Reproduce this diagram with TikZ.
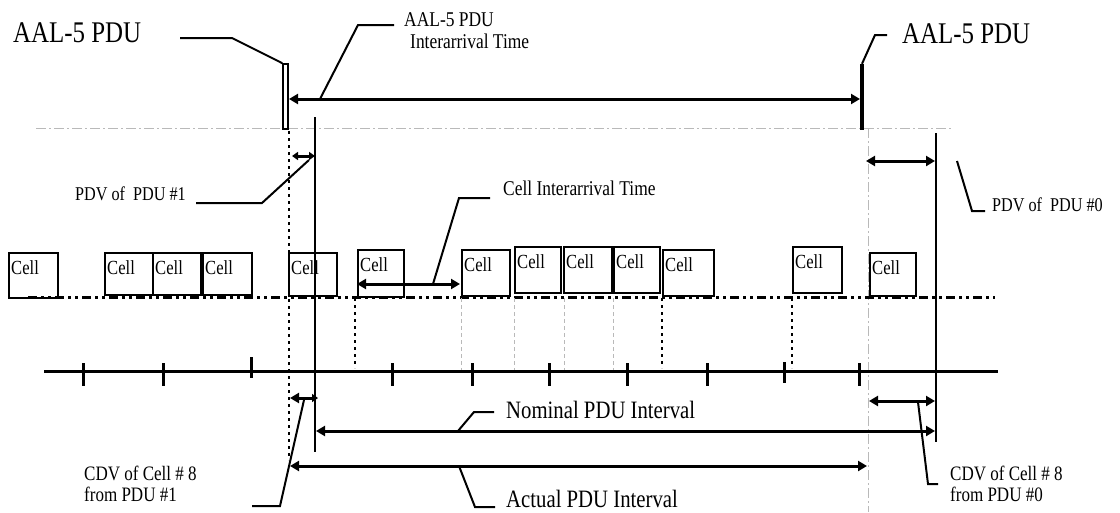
\documentclass[tikz,border=0pt]{standalone}
\usepackage{fontspec}
\setmainfont{Liberation Serif}[FakeStretch=0.83]
\usetikzlibrary{arrows.meta}
\begin{document}
\begin{tikzpicture}[x=1pt,y=-1pt,
  lead/.style={line width=2pt},
  tipL/.tip={Triangle[length=9pt,width=10pt]},
  tipS/.tip={Triangle[length=6pt,width=8pt]},
  dbl/.style={line width=3pt,tipL-tipL},
  vline/.style={line width=2.5pt},
  dotv/.style={line width=2.5pt,dash pattern=on 3pt off 4pt},
  grayv/.style={gray!55,line width=0.7pt,dash pattern=on 4pt off 3pt},
  graydd/.style={gray!55,line width=1pt,dash pattern=on 10pt off 3pt on 2pt off 3pt},
  ddot/.style={line width=3pt,dash pattern=on 9pt off 4pt on 3pt off 4pt on 3pt off 4pt},
  tick/.style={line width=3pt},
  cellbox/.style={draw,line width=2pt,inner sep=0pt,anchor=north west,
    label={[anchor=north west,inner xsep=3pt,inner ysep=8pt,font=\fontsize{20}{20}\selectfont]north west:Cell}},
  bigtxt/.style={font=\fontsize{30}{32}\selectfont,anchor=base west,inner sep=0pt},
  midtxt/.style={font=\fontsize{21}{22}\selectfont,anchor=base west,inner sep=0pt,align=left},
  smltxt/.style={font=\fontsize{19.5}{18}\selectfont,anchor=base west,inner sep=0pt,align=left},
  cdvtxt/.style={font=\fontsize{20.5}{21}\selectfont,anchor=base west,inner sep=0pt,align=left},
  lbltxt/.style={font=\fontsize{25}{26}\selectfont,anchor=base west,inner sep=0pt}
]
\useasboundingbox (0,0) rectangle (1120,512);

% ---------- background guide lines ----------
\coordinate (gh1) at (36,128);  \coordinate (gh2) at (953,128);
\draw[graydd] (gh1) -- (gh2);
\coordinate (gv1) at (868,128); \coordinate (gv2) at (868,512);
\draw[graydd] (gv1) -- (gv2);

% ---------- cells ----------
\node[cellbox,minimum width=49pt,minimum height=45pt] (c1) at (8,252) {};
\node[cellbox,minimum width=48pt,minimum height=42pt] (c2) at (104,252) {};
\node[cellbox,minimum width=48pt,minimum height=42pt] (c3) at (152,252) {};
\node[cellbox,minimum width=49pt,minimum height=42pt] (c4) at (202,252) {};
\node[cellbox,minimum width=48pt,minimum height=43pt] (c5) at (288,252) {};
\node[cellbox,minimum width=46pt,minimum height=47pt] (c6) at (357,249) {};
\node[cellbox,minimum width=48pt,minimum height=46pt] (c7) at (461,249) {};
\node[cellbox,minimum width=46pt,minimum height=46pt] (c8) at (514,246) {};
\node[cellbox,minimum width=48pt,minimum height=46pt] (c9) at (563,246) {};
\node[cellbox,minimum width=46pt,minimum height=46pt] (c10) at (613,246) {};
\node[cellbox,minimum width=51pt,minimum height=46pt] (c11) at (662,249) {};
\node[cellbox,minimum width=49pt,minimum height=46pt] (c12) at (792,246) {};
\node[cellbox,minimum width=46pt,minimum height=43pt] (c13) at (869,252) {};

% cell line and time axis
\coordinate (dl1) at (28,297); \coordinate (dl2) at (995,297);
\draw[ddot] (dl1) -- (dl2);
\coordinate (ax1) at (44,371); \coordinate (ax2) at (998,371);
\draw[tick] (ax1) -- (ax2);
\foreach \x in {83,163,392,472,549,627,707,859} \draw[tick] (\x,363) -- (\x,386);
\draw[tick] (251,357) -- (251,378);
\draw[tick] (784,362) -- (784,383);

% short vertical projections
\foreach \x in {355,662,792} \draw[dotv] (\x,298) -- (\x,368);
\foreach \x in {461,514,564,613} \draw[grayv] (\x,298) -- (\x,370);

% ---------- PDU markers ----------
\node[draw,line width=1.5pt,fill=white,minimum width=5pt,minimum height=65pt,inner sep=0pt] (pduA) at (285.5,96.5) {};
\node[fill=black,minimum width=4pt,minimum height=66pt,inner sep=0pt] (pduB) at (862,97) {};

% main verticals
\coordinate (v1t) at (315,117); \coordinate (v1b) at (315,452);
\draw[vline] (v1t) -- (v1b);
\coordinate (v2t) at (936,133); \coordinate (v2b) at (936,442);
\draw[vline] (v2t) -- (v2b);
\coordinate (d1t) at (289,131); \coordinate (d1b) at (289,460);
\draw[dotv] (d1t) -- (d1b);

% ---------- texts ----------
\node[bigtxt] (tA) at (13,42) {AAL-5 PDU};
\node[bigtxt] (tB) at (902,43) {AAL-5 PDU};
\node[midtxt] (tIA) at (404,48) {AAL-5 PDU\\\hspace*{6pt}Interarrival Time};
\node[smltxt] (tP1) at (75,200) {PDV of\ \ PDU \#1};
\node[smltxt] (tP0) at (992,211) {PDV of\ \ PDU \#0};
\node[midtxt] (tCI) at (503,195) {Cell Interarrival Time};
\node[lbltxt] (tNom) at (506,418) {Nominal PDU Interval};
\node[lbltxt] (tAct) at (506,507) {Actual PDU Interval};
\node[cdvtxt] (tC1) at (84,501) {CDV of Cell \# 8\\from PDU \#1};
\node[cdvtxt] (tC0) at (950,501) {CDV of Cell \# 8\\from PDU \#0};

% ---------- arrows ----------
\coordinate (iaL) at (289,99); \coordinate (iaR) at (860,99);
\draw[dbl] (iaL) -- (iaR);
\coordinate (pv1L) at (292,156); \coordinate (pv1R) at (315,156);
\draw[line width=3pt,tipS-tipS] (pv1L) -- (pv1R);
\coordinate (pv0L) at (866,161); \coordinate (pv0R) at (935,161);
\draw[dbl] (pv0L) -- (pv0R);
\coordinate (ciL) at (357,284); \coordinate (ciR) at (460,284);
\draw[dbl] (ciL) -- (ciR);
\coordinate (cd1L) at (290,398); \coordinate (cd1R) at (318,398);
\draw[line width=3pt,tipL-tipS] (cd1L) -- (cd1R);
\coordinate (cd0L) at (869,401); \coordinate (cd0R) at (935,401);
\draw[dbl] (cd0L) -- (cd0R);
\coordinate (nomL) at (316,431); \coordinate (nomR) at (935,431);
\draw[dbl] (nomL) -- (nomR);
\coordinate (actL) at (290,466); \coordinate (actR) at (867,466);
\draw[dbl] (actL) -- (actR);

% ---------- leaders ----------
\coordinate (lA) at (180,38);
\draw[lead] (lA) -- (232,38) -- (280,62) -- (pduA.north west);
\coordinate (lB) at (887,35);
\draw[lead] (pduB.north) -- (875,35) -- (lB);
\coordinate (lIAa) at (320,99); \coordinate (lIAb) at (394,25);
\draw[lead] (lIAa) -- (358,25) -- (lIAb);
\coordinate (lP1a) at (309,160); \coordinate (lP1b) at (196,203);
\draw[lead] (lP1a) -- (262,203) -- (lP1b);
\coordinate (lP0a) at (957,161); \coordinate (lP0b) at (985,211);
\draw[lead] (lP0a) -- (972,211) -- (lP0b);
\coordinate (lCIa) at (433,284); \coordinate (lCIb) at (490,198);
\draw[lead] (lCIa) -- (459,198) -- (lCIb);
\coordinate (lC1a) at (304,400); \coordinate (lC1b) at (252,506);
\draw[lead] (lC1a) -- (280,506) -- (lC1b);
\coordinate (lNa) at (458,431); \coordinate (lNb) at (494,412);
\draw[lead] (lNa) -- (474,412) -- (lNb);
\coordinate (lAa) at (459,466); \coordinate (lAb) at (495,507);
\draw[lead] (lAa) -- (475,507) -- (lAb);
\coordinate (lC0a) at (918,402); \coordinate (lC0b) at (938,484);
\draw[lead] (lC0a) -- (928,484) -- (lC0b);
\end{tikzpicture}
\end{document}
